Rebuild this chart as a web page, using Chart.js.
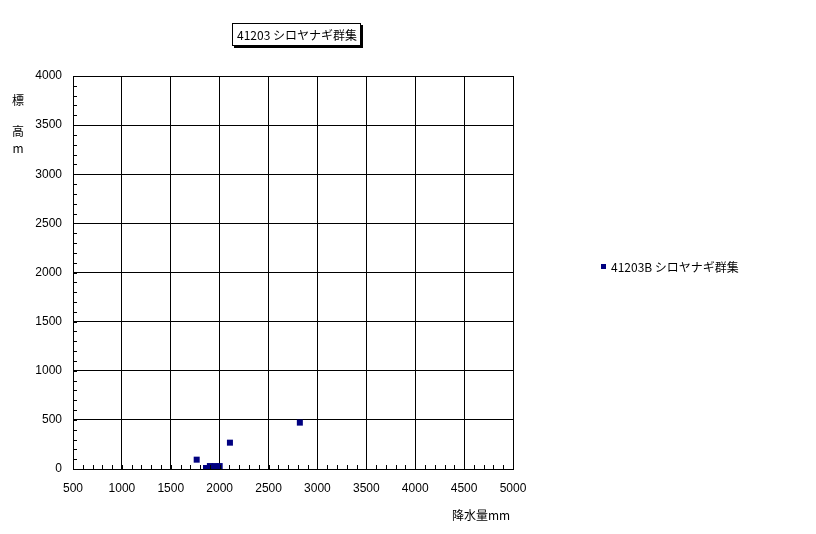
<!DOCTYPE html>
<html><head><meta charset="utf-8">
<script src="https://cdn.jsdelivr.net/npm/chart.js@4"></script>
<style>html,body{margin:0;padding:0;background:#fff}#w{width:816px;height:534px;position:relative}</style>
</head><body><div id="w"><canvas id="c" width="816" height="534"></canvas></div>
<script>
const titleText = "41203 シロヤナギ群集";
const seriesName = "41203B シロヤナギ群集";
const xTitle = "降水量mm";
const yTitleChars = ["標", "高", "m"];
const precipitation = [1765, 1860, 1900, 1950, 2000, 2105, 2820];
const elevation = [95, 10, 30, 30, 30, 268, 472];
const xTicks = [500, 1000, 1500, 2000, 2500, 3000, 3500, 4000, 4500, 5000];
const yTicks = [0, 500, 1000, 1500, 2000, 2500, 3000, 3500, 4000];

const points = precipitation.map((x, i) => ({x: x, y: elevation[i]}));
const jpFont = "'Noto Sans CJK JP', sans-serif";
const numFont = "'Liberation Sans', Arial, sans-serif";

const decor = {
  id: 'decor',
  afterDraw(chart) {
    const ctx = chart.ctx, a = chart.chartArea, xs = chart.scales.x, ys = chart.scales.y;
    ctx.save();
    ctx.strokeStyle = '#000'; ctx.lineWidth = 1;
    ctx.strokeRect(Math.round(a.left) + 0.5, Math.round(a.top) + 0.5, Math.round(a.right - a.left), Math.round(a.bottom - a.top));
    ctx.beginPath();
    for (let v = xTicks[0]; v <= xTicks[xTicks.length - 1]; v += 100) {
      const px = Math.round(xs.getPixelForValue(v)) + 0.5;
      ctx.moveTo(px, Math.round(a.bottom)); ctx.lineTo(px, Math.round(a.bottom) - 4);
    }
    for (let v = yTicks[0]; v <= yTicks[yTicks.length - 1]; v += 100) {
      const py = Math.round(ys.getPixelForValue(v)) + 0.5;
      ctx.moveTo(Math.round(a.left), py); ctx.lineTo(Math.round(a.left) + 4, py);
    }
    ctx.stroke();
    // title box
    ctx.fillStyle = '#000';
    ctx.fillRect(234, 25, 129, 23);
    ctx.fillStyle = '#fff';
    ctx.fillRect(232, 23, 129, 23);
    ctx.strokeRect(232.5, 23.5, 128, 22);
    ctx.fillStyle = '#000';
    ctx.font = "12px " + jpFont;
    ctx.textBaseline = 'middle'; ctx.textAlign = 'center';
    ctx.fillText(titleText, 297, 35);
    // y title
    ctx.font = "12px " + jpFont;
    ctx.fillText(yTitleChars[0], 18, 100);
    ctx.fillText(yTitleChars[1], 18, 131);
    ctx.fillText(yTitleChars[2], 18, 148);
    // x title
    ctx.textAlign = 'left';
    ctx.fillText(xTitle, 452, 515);
    // legend
    ctx.fillStyle = '#000080';
    ctx.fillRect(601, 264, 5, 5);
    ctx.fillStyle = '#000';
    ctx.fillText(seriesName, 611, 267);
    ctx.restore();
  }
};

new Chart(document.getElementById('c'), {
  type: 'scatter',
  data: { datasets: [{ label: seriesName, data: points, pointStyle: 'rect', pointRadius: 4.25, pointHoverRadius: 4.25, backgroundColor: '#000080', borderWidth: 0 }] },
  options: {
    responsive: false, animation: false, devicePixelRatio: 1,
    layout: { padding: { left: 0, top: 76, right: 303, bottom: 0 } },
    plugins: { legend: { display: false }, tooltip: { enabled: false } },
    scales: {
      x: {
        type: 'linear', min: 500, max: 5000,
        afterBuildTicks(s) { s.ticks = xTicks.map(v => ({value: v})); },
        afterFit(s) { s.height = 65; },
        grid: { color: '#000', lineWidth: 1, drawTicks: false },
        border: { display: false },
        ticks: { color: '#000', padding: 12, maxRotation: 0, font: { family: numFont, size: 12 }, callback: v => String(v) }
      },
      y: {
        type: 'linear', min: 0, max: 4000,
        afterBuildTicks(s) { s.ticks = yTicks.map(v => ({value: v})); },
        afterFit(s) { s.width = 73; },
        grid: { color: '#000', lineWidth: 1, drawTicks: false },
        border: { display: false },
        ticks: { color: '#000', padding: 11, font: { family: numFont, size: 12, lineHeight: 1 }, callback: v => String(v) }
      }
    }
  },
  plugins: [decor]
});
</script></body></html>
